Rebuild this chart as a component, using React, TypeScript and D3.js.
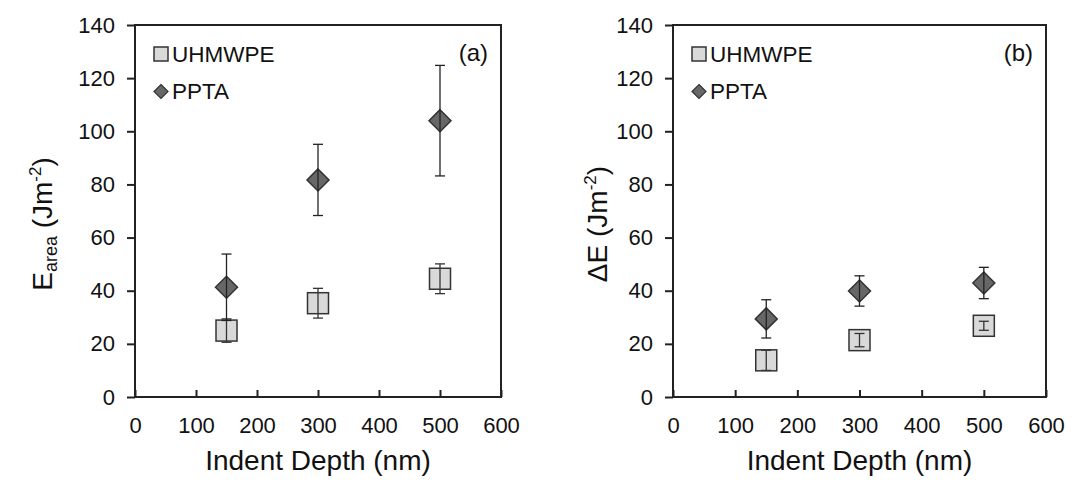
import { useEffect, useRef } from 'react';
import * as d3 from 'd3';

// indent depths (nm)
const depths = [150, 300, 500];

// panel (a) E_area
const uhmwpeArea = [25.0, 35.3, 44.5];
const uhmwpeAreaErr = [4.4, 5.6, 5.6];
const pptaArea = [41.3, 81.7, 104.0];
const pptaAreaErr = [12.5, 13.4, 20.8];

// panel (b) delta E
const uhmwpeDelta = [13.8, 21.4, 26.8];
const uhmwpeDeltaErr = [3.8, 2.5, 1.7];
const pptaDelta = [29.4, 39.9, 42.9];
const pptaDeltaErr = [7.2, 5.7, 5.9];

const xTicks = [0, 100, 200, 300, 400, 500, 600];
const yTicks = [0, 20, 40, 60, 80, 100, 120, 140];
const seriesNames = ['UHMWPE', 'PPTA'];

const FONT = '"Liberation Sans", Arial, sans-serif';

type Panel = {
  left: number;
  right: number;
  tag: string;
  titleX: number;
  title: 'area' | 'delta';
  sq: number[];
  sqErr: number[];
  di: number[];
  diErr: number[];
};

const panels: Panel[] = [
  { left: 135, right: 501, tag: '(a)', titleX: 52, title: 'area', sq: uhmwpeArea, sqErr: uhmwpeAreaErr, di: pptaArea, diErr: pptaAreaErr },
  { left: 673, right: 1046, tag: '(b)', titleX: 607, title: 'delta', sq: uhmwpeDelta, sqErr: uhmwpeDeltaErr, di: pptaDelta, diErr: pptaDeltaErr },
];

export default function App() {
  const ref = useRef<SVGSVGElement | null>(null);

  useEffect(() => {
    if (!ref.current) return;
    const svg = d3.select(ref.current);
    svg.selectAll('*').remove();

    const top = 25;
    const bottom = 397;
    const y = d3.scaleLinear().domain([0, 140]).range([bottom, top]);

    panels.forEach((p) => {
      const x = d3.scaleLinear().domain([0, 600]).range([p.left, p.right]);
      const g = svg.append('g');

      // x axis, ticks pointing inward
      const xa = g
        .append('g')
        .attr('transform', `translate(0,${bottom})`)
        .call(d3.axisBottom(x).tickValues(xTicks).tickSizeInner(-7).tickSizeOuter(0).tickPadding(20));
      xa.select('.domain').remove();
      xa.selectAll('line').attr('stroke', '#222').attr('stroke-width', 2);
      xa.selectAll('text').attr('font-family', FONT).attr('font-size', 22).attr('fill', '#111');

      // y axis, ticks pointing outward
      const ya = g
        .append('g')
        .attr('transform', `translate(${p.left},0)`)
        .call(d3.axisLeft(y).tickValues(yTicks).tickSizeInner(8).tickSizeOuter(0).tickPadding(12));
      ya.select('.domain').remove();
      ya.selectAll('line').attr('stroke', '#222').attr('stroke-width', 2);
      ya.selectAll('text').attr('font-family', FONT).attr('font-size', 22).attr('fill', '#111');

      // frame
      g.append('rect')
        .attr('x', p.left)
        .attr('y', top)
        .attr('width', p.right - p.left)
        .attr('height', bottom - top)
        .attr('fill', 'none')
        .attr('stroke', '#222')
        .attr('stroke-width', 2);

      // squares
      g.selectAll('rect.sq')
        .data(p.sq)
        .enter()
        .append('rect')
        .attr('class', 'sq')
        .attr('x', (_d, i) => x(depths[i]) - 10.5)
        .attr('y', (d) => y(d) - 10.5)
        .attr('width', 21)
        .attr('height', 21)
        .attr('fill', '#d9d9d9')
        .attr('stroke', '#333')
        .attr('stroke-width', 1.5);

      const errBars = (vals: number[], errs: number[], color: string) => {
        const eg = g.append('g').attr('stroke', color).attr('stroke-width', 1.3).attr('fill', 'none');
        vals.forEach((v, i) => {
          const cx = x(depths[i]);
          const y0 = y(v - errs[i]);
          const y1 = y(v + errs[i]);
          eg.append('line').attr('x1', cx).attr('x2', cx).attr('y1', y0).attr('y2', y1);
          eg.append('line').attr('x1', cx - 5).attr('x2', cx + 5).attr('y1', y0).attr('y2', y0);
          eg.append('line').attr('x1', cx - 5).attr('x2', cx + 5).attr('y1', y1).attr('y2', y1);
        });
      };
      errBars(p.sq, p.sqErr, '#333');

      // diamonds
      const diamond = (cx: number, cy: number, r: number) =>
        `M${cx},${cy - r}L${cx + r},${cy}L${cx},${cy + r}L${cx - r},${cy}Z`;
      g.selectAll('path.di')
        .data(p.di)
        .enter()
        .append('path')
        .attr('class', 'di')
        .attr('d', (d, i) => diamond(x(depths[i]), y(d), 11))
        .attr('fill', '#676767')
        .attr('stroke', '#333')
        .attr('stroke-width', 1.5);
      errBars(p.di, p.diErr, '#222');

      // legend
      const lx = p.left + 19;
      g.append('rect')
        .attr('x', lx)
        .attr('y', 47)
        .attr('width', 14)
        .attr('height', 14)
        .attr('fill', '#d9d9d9')
        .attr('stroke', '#333')
        .attr('stroke-width', 1.5);
      g.append('path')
        .attr('d', diamond(lx + 7, 91.5, 7))
        .attr('fill', '#676767')
        .attr('stroke', '#333')
        .attr('stroke-width', 1.2);
      g.append('text')
        .attr('x', lx + 18)
        .attr('y', 62)
        .attr('font-family', FONT)
        .attr('font-size', 22.5)
        .attr('fill', '#111')
        .text(seriesNames[0]);
      g.append('text')
        .attr('x', lx + 18)
        .attr('y', 99)
        .attr('font-family', FONT)
        .attr('font-size', 22.5)
        .attr('fill', '#111')
        .text(seriesNames[1]);

      // panel tag
      g.append('text')
        .attr('x', p.right - 13)
        .attr('y', 61)
        .attr('text-anchor', 'end')
        .attr('font-family', FONT)
        .attr('font-size', 24)
        .attr('fill', '#111')
        .text(p.tag);

      // x title
      g.append('text')
        .attr('x', (p.left + p.right) / 2)
        .attr('y', 470)
        .attr('text-anchor', 'middle')
        .attr('font-family', FONT)
        .attr('font-size', 28)
        .attr('fill', '#111')
        .text('Indent Depth (nm)');

      // y title
      const yt = g
        .append('text')
        .attr('transform', `translate(${p.titleX},224) rotate(-90)`)
        .attr('text-anchor', 'middle')
        .attr('font-family', FONT)
        .attr('font-size', 28)
        .attr('fill', '#111');
      if (p.title === 'area') {
        yt.append('tspan').text('E');
        yt.append('tspan').attr('font-size', 18).attr('dy', 5).text('area');
        yt.append('tspan').attr('dy', -5).text(' (Jm');
      } else {
        yt.append('tspan').text('ΔE (Jm');
      }
      yt.append('tspan').attr('font-size', 17).attr('dy', -11).text('-2');
      yt.append('tspan').attr('dy', 11).text(')');
    });
  }, []);

  return (
    <svg
      ref={ref}
      width={1080}
      height={490}
      style={{ position: 'absolute', left: 0, top: 0, background: '#fff' }}
    ></svg>
  );
}
